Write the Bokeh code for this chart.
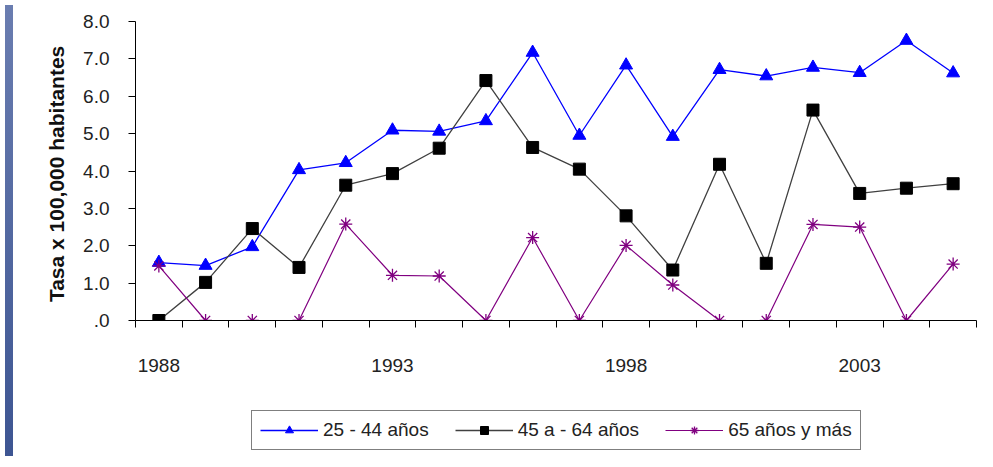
from bokeh.plotting import figure
from bokeh.models import Range1d, FixedTicker, Legend, LegendItem, Div
from bokeh.layouts import row, column
from bokeh.embed import file_html
from bokeh.resources import INLINE

years = list(range(1988, 2006))
s25_44 = [1.55, 1.47, 1.97, 4.03, 4.22, 5.09, 5.06, 5.34, 7.17, 4.95, 6.83, 4.92, 6.71, 6.54, 6.77, 6.63, 7.49, 6.62]
s45_64 = [0.0, 1.02, 2.46, 1.42, 3.62, 3.93, 4.61, 6.42, 4.63, 4.05, 2.80, 1.35, 4.18, 1.53, 5.63, 3.40, 3.54, 3.66]
s65 = [1.46, 0.0, 0.0, 0.0, 2.58, 1.21, 1.19, 0.0, 2.22, 0.0, 2.01, 0.95, 0.0, 0.0, 2.57, 2.50, 0.0, 1.51]
series_names = ["25 - 44 años", "45 a - 64 años", "65 años y más"]
x_tick_years = [1988, 1993, 1998, 2003]
y_ticks = [0, 1, 2, 3, 4, 5, 6, 7, 8]
y_tick_labels = [".0", "1.0", "2.0", "3.0", "4.0", "5.0", "6.0", "7.0", "8.0"]
y_title = "Tasa x 100,000  habitantes"

FONT = "Liberation Sans"
styles = [
    dict(line_color="#0000ff", line_width=1.3, marker="triangle", size=13, fill_color="#0000ff", mline="#0000ff", mlw=1.0),
    dict(line_color="#404040", line_width=1.3, marker="square", size=12, fill_color="black", mline="black", mlw=1.0),
    dict(line_color="#800080", line_width=1.2, marker="asterisk", size=13, fill_color=None, mline="#800080", mlw=1.3),
]
series = [s25_44, s45_64, s65]

p = figure(width=969, height=400, output_backend="svg", toolbar_location=None,
           x_range=Range1d(years[0] - 0.5, years[-1] + 0.5), y_range=Range1d(0, 8),
           min_border_left=117, min_border_right=11, min_border_top=21, min_border_bottom=80)
p.outline_line_color = None
p.xgrid.visible = False
p.ygrid.visible = False
p.border_fill_color = "white"

# x axis: labels every 5 years, tick marks between categories
p.xaxis.ticker = FixedTicker(ticks=x_tick_years,
                             minor_ticks=[y - 0.5 for y in years] + [years[-1] + 0.5])
p.xaxis.major_tick_out = 0
p.xaxis.major_tick_in = 0
p.xaxis.minor_tick_out = 7
p.xaxis.minor_tick_in = 0
p.xaxis.minor_tick_line_color = "black"
p.xaxis.axis_line_color = "black"
p.xaxis.major_label_standoff = 31
p.xaxis.major_label_text_font = FONT
p.xaxis.major_label_text_font_size = "19px"
p.xaxis.major_label_text_color = "#222222"

# y axis
p.yaxis.ticker = FixedTicker(ticks=y_ticks)
p.yaxis.major_label_overrides = {t: lab for t, lab in zip(y_ticks, y_tick_labels)}
p.yaxis.major_tick_out = 7
p.yaxis.major_tick_in = 0
p.yaxis.minor_tick_line_color = None
p.yaxis.major_tick_line_color = "black"
p.yaxis.axis_line_color = "black"
p.yaxis.major_label_standoff = 19
p.yaxis.major_label_text_font = FONT
p.yaxis.major_label_text_font_size = "19px"
p.yaxis.major_label_text_color = "#222222"
p.yaxis.axis_label = y_title
p.yaxis.axis_label_text_font = FONT
p.yaxis.axis_label_text_font_size = "21px"
p.yaxis.axis_label_text_font_style = "bold"
p.yaxis.axis_label_text_color = "#111111"
p.yaxis.axis_label_standoff = 12

for vals, st in zip(series, styles):
    p.line(years, vals, line_color=st["line_color"], line_width=st["line_width"])
    p.scatter(years, vals, marker=st["marker"], size=st["size"], fill_color=st["fill_color"],
              line_color=st["mline"], line_width=st["mlw"])

# legend strip below the chart (same series, drawn out of view; only the legend shows)
lg = figure(width=969, height=51, output_backend="svg", toolbar_location=None,
            x_range=Range1d(0, 1), y_range=Range1d(0, 1),
            x_axis_type=None, y_axis_type=None,
            min_border_left=0, min_border_right=0, min_border_top=0, min_border_bottom=0)
lg.outline_line_color = None
lg.xgrid.visible = False
lg.ygrid.visible = False
lg.border_fill_color = "white"

items = []
for name, vals, st in zip(series_names, series, styles):
    r1 = lg.line(years, vals, line_color=st["line_color"], line_width=st["line_width"])
    r2 = lg.scatter(years, vals, marker=st["marker"], size=st["size"], fill_color=st["fill_color"],
                    line_color=st["mline"], line_width=st["mlw"])
    items.append(LegendItem(label=name, renderers=[r1, r2]))

legend = Legend(items=items, orientation="horizontal", location=(116, 1), margin=0,
                padding=8, spacing=26, glyph_width=58, glyph_height=20, label_standoff=5,
                label_text_font=FONT, label_text_font_size="19px", label_text_color="#222222",
                border_line_color="black", border_line_width=1, background_fill_color="white",
                background_fill_alpha=1.0)
lg.add_layout(legend, "center")

strip = Div(text="", width=8, height=451,
            styles={"background": "linear-gradient(to bottom, #6a7db0, #3d5592)"})

layout = row(strip, column(p, lg, spacing=0), spacing=0)

open("out.html", "w").write(file_html(layout, INLINE))
